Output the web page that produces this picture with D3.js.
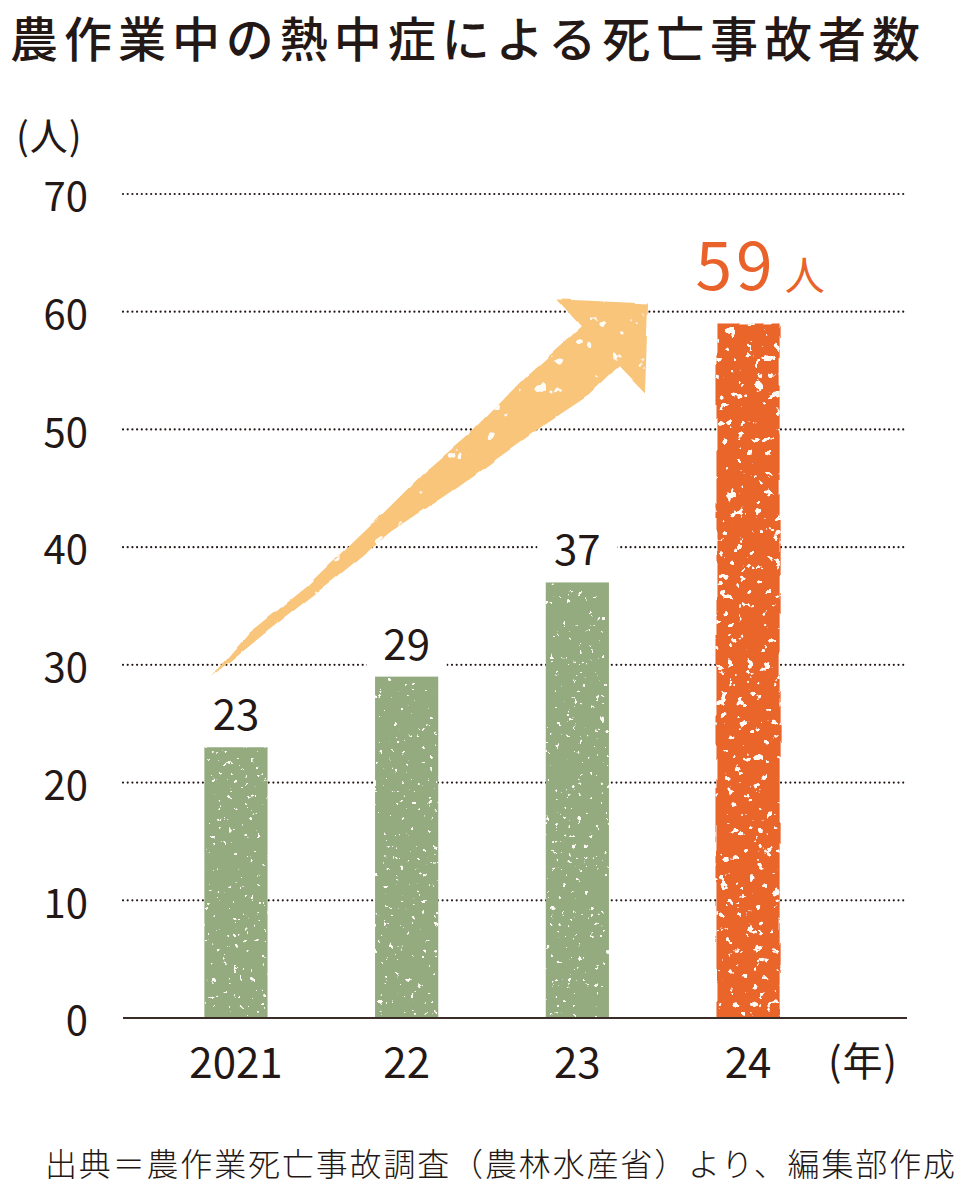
<!DOCTYPE html>
<html>
<head>
<meta charset="utf-8">
<script src="https://cdn.jsdelivr.net/npm/d3@7"></script>
<style>
  body { margin: 0; background: #fff; }
  text { font-family: "Noto Sans CJK JP", "Noto Sans", sans-serif; fill: #231815; }
</style>
</head>
<body>
<script>
// DATA
const years = ['2021', '22', '23', '24'];                                       // Category labels on x axis
const deaths = [23, 29, 37, 59];                                                // Deaths per year
const yTicks = [0, 10, 20, 30, 40, 50, 60, 70];                                 // Tick values on y axis
const titleText = '農作業中の熱中症による死亡事故者数';
const sourceText = '出典＝農作業死亡事故調査（農林水産省）より、編集部作成';

// Needed Variables
const width = 965;
const height = 1190;
const plot = {left: 123, right: 907, top: 194, bottom: 1018};
const ink = '#231815';

const data = years.map((y, i) => ({year: y, value: deaths[i], latest: i === years.length - 1}));

var svg = d3.select('body')
  .append('svg')
  .attr('width', width)
  .attr('height', height);

// Texture filters (speckled crayon look)
const defs = svg.append('defs');
function grainFilter(id, freq, cut, seed, wobble){
  const f = defs.append('filter').attr('id', id)
    .attr('x', '-15%').attr('y', '-5%').attr('width', '130%').attr('height', '110%');
  let src = 'SourceGraphic';
  if (wobble){                                                                  // Rough edges
    f.append('feTurbulence').attr('type', 'fractalNoise').attr('baseFrequency', '0.04 0.02')
      .attr('numOctaves', 2).attr('seed', seed + 7).attr('result', 'warp');
    f.append('feDisplacementMap').attr('in', 'SourceGraphic').attr('in2', 'warp')
      .attr('scale', wobble).attr('xChannelSelector', 'R').attr('yChannelSelector', 'G')
      .attr('result', 'shape');
    src = 'shape';
  }
  f.append('feTurbulence').attr('type', 'fractalNoise').attr('baseFrequency', freq)
    .attr('numOctaves', 3).attr('seed', seed).attr('result', 'noise');
  f.append('feColorMatrix').attr('in', 'noise').attr('type', 'matrix')
    .attr('values', `0 0 0 0 0.99  0 0 0 0 0.96  0 0 0 0 0.90  30 0 0 0 ${-30 * cut}`)
    .attr('result', 'spots');
  f.append('feComposite').attr('in', 'spots').attr('in2', src).attr('operator', 'in').attr('result', 'spotsIn');
  const m = f.append('feMerge');
  m.append('feMergeNode').attr('in', src);
  m.append('feMergeNode').attr('in', 'spotsIn');
}
grainFilter('grainGreen', 0.18, 0.72, 3, 0);
grainFilter('grainOrange', 0.11, 0.665, 11, 5);
grainFilter('grainArrow', 0.06, 0.7, 21, 4);

// Scales
var yScale = d3.scaleLinear()
  .domain([0, 70])
  .range([plot.bottom, plot.top]);

var xScale = d3.scaleBand()
  .domain(years)
  .range([150.6, 833.4])
  .paddingInner(0.63)
  .paddingOuter(0.315);

// Title
svg.append('text')
  .attr('x', 10).attr('y', 57)
  .attr('font-size', 48).attr('font-weight', 500)
  .attr('textLength', 910).attr('lengthAdjust', 'spacing')
  .text(titleText);

// Unit label
svg.append('text')
  .attr('x', 16).attr('y', 150)
  .attr('font-size', 38).attr('letter-spacing', 1)
  .text('(人)');

// Gridlines
svg.append('g')
  .selectAll('line')
  .data(yTicks.filter((d) => d > 0))
  .join('line')
  .attr('x1', plot.left).attr('x2', plot.right)
  .attr('y1', (d) => yScale(d)).attr('y2', (d) => yScale(d))
  .attr('stroke', ink).attr('stroke-width', 2.2)
  .attr('stroke-linecap', 'round').attr('stroke-dasharray', '0,4.7');

// Y axis labels
var yAxis = d3.axisLeft(yScale).tickValues(yTicks).tickSize(0).tickPadding(35);
svg.append('g')
  .attr('transform', 'translate(' + plot.left + ',0)')
  .call(yAxis)
  .call((g) => g.select('.domain').remove())
  .selectAll('text')
  .attr('font-size', 40).attr('font-family', null)
  .attr('dy', '0.42em').style('fill', ink);

// Arrow (decoration from 2021 label up toward 24 bar)
const tail = [xScale('2021') + xScale.bandwidth() / 2 - 24, yScale(29)];
const tip = [xScale('24') + xScale.bandwidth() / 2 - 100, yScale(60.7)];
const arrowShape = [
  [0, 0], [0.087, 0.118], [0.218, 0.241], [0.36, 0.40], [0.485, 0.545], [0.60, 0.66],
  [0.715, 0.799], [0.846, 0.936], [0.789, 1.011], [1, 1], [0.993, 0.759],
  [0.933, 0.832], [0.864, 0.754], [0.754, 0.668], [0.563, 0.508], [0.409, 0.385],
  [0.278, 0.259], [0.14, 0.134]
];
var ax = d3.scaleLinear().domain([0, 1]).range([tail[0], tip[0]]);
var ay = d3.scaleLinear().domain([0, 1]).range([tail[1], tip[1]]);
svg.append('path')
  .attr('d', d3.line().x((p) => ax(p[0])).y((p) => ay(p[1])).curve(d3.curveLinearClosed)(arrowShape))
  .attr('fill', '#F8C57A')
  .attr('filter', 'url(#grainArrow)');

// Bars
svg.append('g')
  .selectAll('rect')
  .data(data)
  .join('rect')
  .attr('x', (d) => xScale(d.year))
  .attr('y', (d) => yScale(d.value))
  .attr('width', xScale.bandwidth())
  .attr('height', (d) => yScale(0) - yScale(d.value))
  .attr('fill', (d) => d.latest ? '#E9652B' : '#94AA7F')
  .attr('filter', (d) => d.latest ? 'url(#grainOrange)' : 'url(#grainGreen)');

// Baseline
svg.append('line')
  .attr('x1', plot.left).attr('x2', plot.right)
  .attr('y1', yScale(0)).attr('y2', yScale(0))
  .attr('stroke', '#3a2c27').attr('stroke-width', 2);

// Value labels (white knock-out behind so gridlines break)
const normal = data.filter((d) => !d.latest);
const labels = svg.append('g');
labels.selectAll('rect')
  .data(normal)
  .join('rect')
  .attr('x', (d) => xScale(d.year) + xScale.bandwidth() / 2 - 40)
  .attr('y', (d) => yScale(d.value) - 54)
  .attr('width', 80).attr('height', 46)
  .attr('fill', '#fff');
labels.selectAll('text')
  .data(normal)
  .join('text')
  .attr('x', (d) => xScale(d.year) + xScale.bandwidth() / 2)
  .attr('y', (d) => yScale(d.value) - 17)
  .attr('text-anchor', 'middle')
  .attr('font-size', 42)
  .text((d) => d.value);

// Highlighted label for the latest year
const last = data[data.length - 1];
const hl = svg.append('text')
  .attr('x', xScale(last.year) - 21)
  .attr('y', yScale(last.value) - 33)
  .style('fill', '#E9622A');
hl.append('tspan').attr('font-size', 66).attr('letter-spacing', 4).text(last.value);
hl.append('tspan').attr('font-size', 40).attr('dx', 8).text('人');

// X axis labels
var xAxis = d3.axisBottom(xScale).tickSize(0);
svg.append('g')
  .attr('transform', 'translate(0,' + plot.bottom + ')')
  .call(xAxis)
  .call((g) => g.select('.domain').remove())
  .selectAll('text')
  .attr('font-size', 42).attr('font-family', null)
  .attr('y', 60).attr('dy', 0).style('fill', ink);

svg.append('text')
  .attr('x', 828).attr('y', 1076)
  .attr('font-size', 40).attr('letter-spacing', 1)
  .text('(年)');

// Source
svg.append('text')
  .attr('x', 45).attr('y', 1176)
  .attr('font-size', 32).attr('font-weight', 300)
  .attr('textLength', 910).attr('lengthAdjust', 'spacing')
  .text(sourceText);
</script>
</body>
</html>
